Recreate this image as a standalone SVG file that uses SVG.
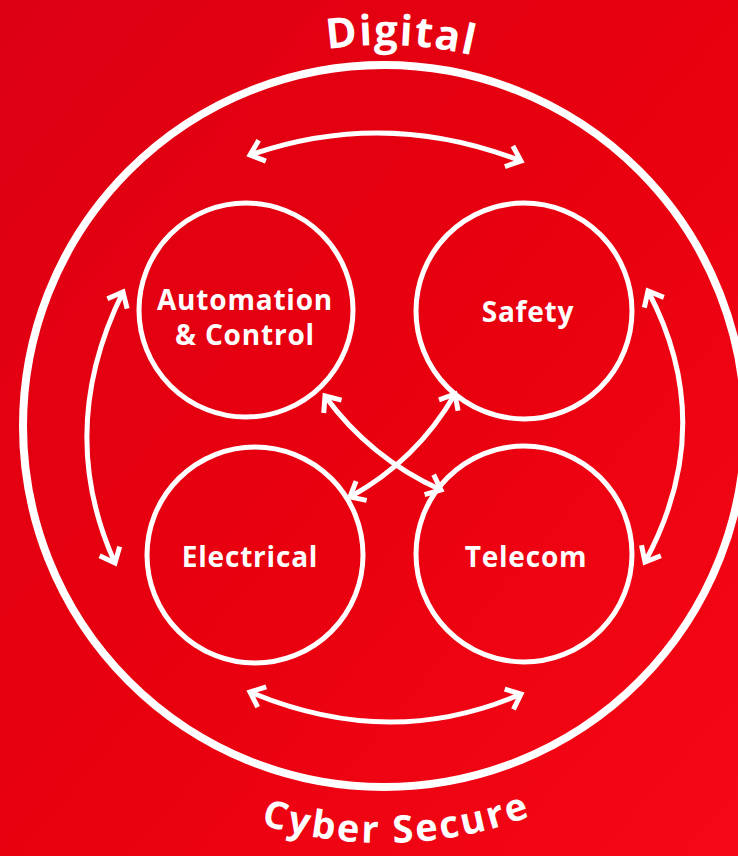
<svg xmlns="http://www.w3.org/2000/svg" width="738" height="856" viewBox="0 0 738 856">
  <defs>
    <linearGradient id="bg" x1="0" y1="0" x2="1" y2="1">
      <stop offset="0" stop-color="#dd0014"/>
      <stop offset="0.5" stop-color="#e8000f"/>
      <stop offset="1" stop-color="#f60816"/>
    </linearGradient>
    <marker id="ah" viewBox="-20 -15 28 30" refX="0" refY="0" markerWidth="28" markerHeight="30" markerUnits="userSpaceOnUse" orient="auto-start-reverse">
      <path d="M-13,-11 L0,0 L-13,11" fill="none" stroke="#fff" stroke-width="5" stroke-linejoin="miter"/>
    </marker>
    <path id="arcTop" d="M3,426 A381,381 0 0 1 765,426"/>
    <path id="arcBot" d="M-33,426 A417,417 0 0 0 801,426"/>
  </defs>
  <style>
    .ring { fill: none; stroke: #fff; stroke-width: 5; }
    .lbl { font-family: "Open Sans", "Liberation Sans", sans-serif; font-weight: 700; font-size: 28px; fill: #fff; text-anchor: middle; letter-spacing: 0.8px; }
    .title { font-family: "Open Sans", "Liberation Sans", sans-serif; font-weight: 700; fill: #fff; text-anchor: middle; }
    .arr { fill: none; stroke: #fff; stroke-width: 5; marker-start: url(#ah); marker-end: url(#ah); }
  </style>
  <rect width="738" height="856" fill="url(#bg)"/>

  <g id="outer">
    <circle cx="384" cy="426" r="361" fill="none" stroke="#fff" stroke-width="8"/>
  </g>

  <g id="title-digital">
    <text class="title" font-size="42" letter-spacing="1.5"><textPath href="#arcTop" startOffset="615">Digital</textPath></text>
  </g>
  <g id="title-cyber">
    <text class="title" font-size="38" letter-spacing="2.5"><textPath href="#arcBot" startOffset="668">Cyber Secure</textPath></text>
  </g>

  <g id="node-automation">
    <circle class="ring" cx="246" cy="310" r="107"/>
    <text class="lbl" x="245" y="310">Automation</text>
    <text class="lbl" x="245" y="345">&amp; Control</text>
  </g>
  <g id="node-safety">
    <circle class="ring" cx="524" cy="311" r="108"/>
    <text class="lbl" x="528" y="322">Safety</text>
  </g>
  <g id="node-electrical">
    <circle class="ring" cx="255" cy="555" r="108"/>
    <text class="lbl" x="250" y="567">Electrical</text>
  </g>
  <g id="node-telecom">
    <circle class="ring" cx="524" cy="554" r="108"/>
    <text class="lbl" x="526" y="567">Telecom</text>
  </g>

  <g id="connectors">
    <path class="arr" d="M250,155 Q385,108 521,161"/>
    <path class="arr" d="M250,692 Q390,751 521,694"/>
    <path class="arr" d="M123,292 Q55,430 115,563"/>
    <path class="arr" d="M648,291 Q719,425 645,562"/>
    <path class="arr" d="M325,396 Q370,458 441,490"/>
    <path class="arr" d="M455,394 Q417,460 350,497"/>
  </g>
</svg>
